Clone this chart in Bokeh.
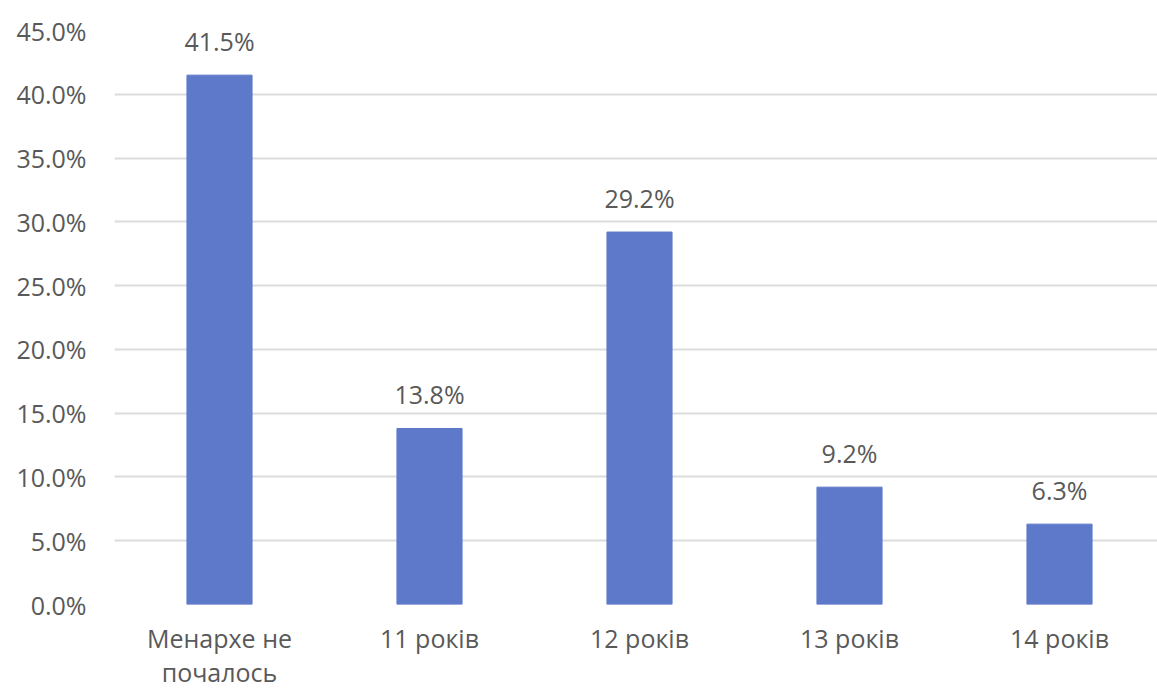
from bokeh.plotting import figure
from bokeh.models import ColumnDataSource, Range1d, FixedTicker, PrintfTickFormatter
from bokeh.embed import file_html
from bokeh.resources import INLINE
from bokeh.core.properties import value

categories = ["Менархе не\nпочалось", "11 років", "12 років", "13 років", "14 років"]
values = [41.5, 13.8, 29.2, 9.2, 6.3]
labels = ["41.5%", "13.8%", "29.2%", "9.2%", "6.3%"]
y_ticks = [0, 5, 10, 15, 20, 25, 30, 35, 40, 45]

FONT = "Open Sans"
TXT = "#595959"

idx = list(range(len(categories)))
src = ColumnDataSource(dict(x=idx, top=values, label=labels))

p = figure(width=1157, height=691, output_backend="svg", toolbar_location=None,
           x_range=Range1d(-0.5, -0.5 + 1043 / 210), y_range=Range1d(0, 45),
           min_border_left=114, min_border_right=0, min_border_top=30, min_border_bottom=86)
p.outline_line_color = None
p.background_fill_color = "white"
p.border_fill_color = "white"

p.vbar(x="x", top="top", width=0.31, bottom=0, source=src,
       fill_color="#5E79C9", line_color="#5E79C9", line_width=1)
p.text(x="x", y="top", text="label", source=src, text_align="center",
       text_baseline="alphabetic", y_offset=-34, text_color=TXT,
       text_font=value(FONT), text_font_size="25px")

p.xgrid.grid_line_color = None
p.ygrid.grid_line_color = "#DCDCDC"
p.ygrid.grid_line_width = 2
p.ygrid.ticker = FixedTicker(ticks=y_ticks)

p.yaxis.ticker = FixedTicker(ticks=y_ticks)
p.yaxis.formatter = PrintfTickFormatter(format="%.1f%%")
p.xaxis.ticker = FixedTicker(ticks=idx)
p.xaxis.major_label_overrides = {i: c for i, c in zip(idx, categories)}

for ax in (p.xaxis[0], p.yaxis[0]):
    ax.axis_line_color = None
    ax.major_tick_line_color = None
    ax.minor_tick_line_color = None
    ax.major_tick_out = 0
    ax.major_tick_in = 0
    ax.major_label_text_color = TXT
    ax.major_label_text_font = FONT
    ax.major_label_text_font_size = "25px"
p.xaxis.major_label_text_line_height = 1.0
p.yaxis.major_label_standoff = 28
p.xaxis.major_label_standoff = 16

open("out.html", "w").write(file_html(p, INLINE))
